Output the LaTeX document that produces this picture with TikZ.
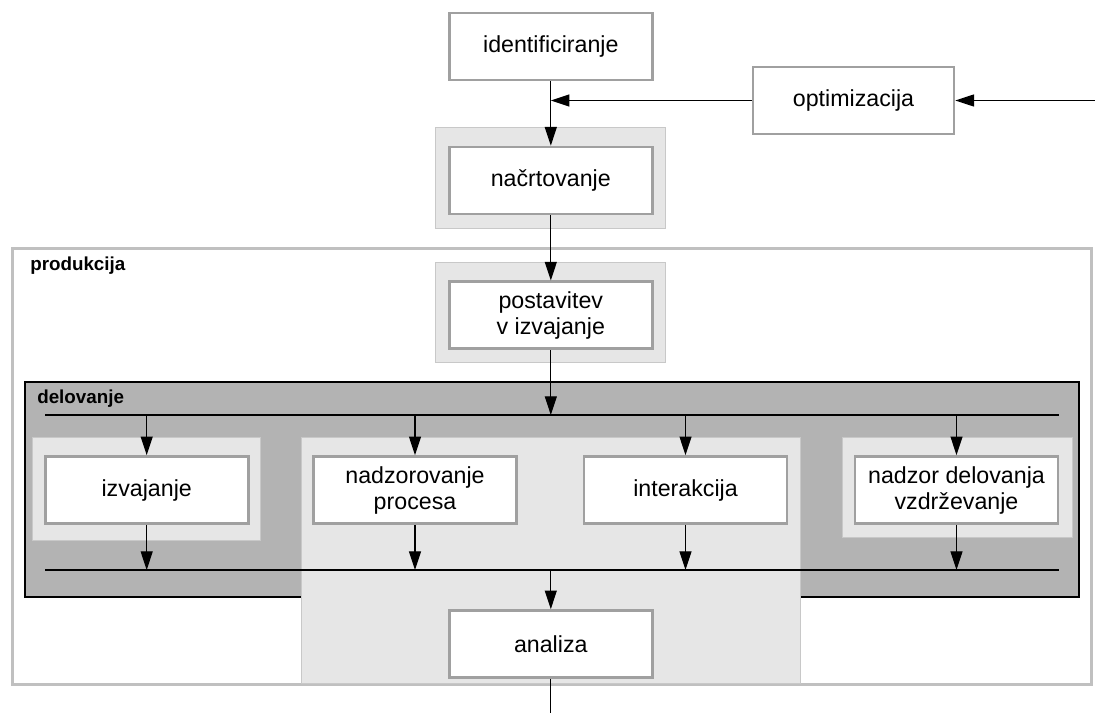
\documentclass[tikz,border=0pt]{standalone}
\usepackage{fontspec}
\setmainfont{Liberation Sans}
\usetikzlibrary{arrows.meta}
\definecolor{boxline}{HTML}{A0A0A0}
\definecolor{panelgrey}{HTML}{E6E6E6}
\definecolor{panelline}{HTML}{C8C8C8}
\definecolor{opgrey}{HTML}{B3B3B3}
\definecolor{frameline}{HTML}{C0C0C0}

\begin{document}
\begin{tikzpicture}[x=0.75pt,y=0.75pt,yscale=-1,xscale=1,
  box/.style={draw=boxline, line width=2pt, fill=white, minimum width=152.25pt, minimum height=50.25pt, inner sep=0pt, align=center, font=\fontsize{17.4}{19.5}\selectfont},
  flow/.style={-{Triangle[length=14pt,width=9pt]}, line width=0.9pt},
  bus/.style={line width=1.2pt},
  panel/.style={draw=panelline, line width=0.75pt, fill=panelgrey},
  title/.style={anchor=west, inner sep=0pt, font=\fontsize{14.1}{16}\selectfont\bfseries}]
\useasboundingbox (0,0) rectangle (1095,713);

%Shape: Rectangle [produkcija]
\draw [fill=white, draw=frameline, line width=2.25pt] (12,248) rectangle (1091,684) ;
%Shape: Rectangle [delovanje]
\draw [fill=opgrey, draw=black, line width=1pt] (25,382) rectangle (1079,597) ;
%Shape: Rectangle [panels]
\draw [panel] (435.7,128) rectangle (665.7,228) ;
\draw [panel] (435.7,262) rectangle (665.7,362) ;
\draw [panel] (32.3,437) rectangle (260.7,540) ;
\draw [panel] (301.5,437) rectangle (800,683) ;
\draw [panel] (842,437) rectangle (1072,537) ;

% Text Node
\node [title] (lprod) at (30,266) {produkcija};
% Text Node
\node [title] (ldel) at (37,399) {delovanje};

% Boxes
\node [box] (ident) at (550.8,46.5) {identificiranje};
\node [box, minimum width=150.75pt] (optim) at (853.5,100.5) {optimizacija};
\node [box] (nacrt) at (550.8,180.5) {načrtovanje};
\node [box] (postav) at (550.8,315.3) {postavitev\\v izvajanje};
\node [box] (izvaj) at (146.7,490) {izvajanje};
\node [box] (nadzorp) at (415,490) {nadzorovanje\\procesa};
\node [box] (interak) at (685.5,490) {interakcija};
\node [box] (nadzord) at (956.5,490) {nadzor delovanja\\vzdrževanje};
\node [box] (analiza) at (550.8,644) {analiza};

% Coordinates
\coordinate (vhod) at (1095,100.5);
\coordinate (zdruzi) at (550.8,100.5);
\coordinate (busTL) at (45,415);
\coordinate (busTR) at (1059,415);
\coordinate (busBL) at (45,570);
\coordinate (busBR) at (1059,570);
\coordinate (izhod) at (550.8,713);

%Straight Lines
\draw [bus] (busTL) -- (busTR) ;
\draw [bus] (busBL) -- (busBR) ;

%Arrows
\draw [flow] (vhod) -- (optim.east) ;
\draw [flow] (optim.west) -- (zdruzi) ;
\draw [flow] (ident.south) -- (nacrt.north) ;
\draw [flow] (nacrt.south) -- (postav.north) ;
\draw [flow] (postav.south) -- (postav.south |- busTL) ;
\draw [flow] (izvaj.north |- busTL) -- (izvaj.north) ;
\draw [flow] (nadzorp.north |- busTL) -- (nadzorp.north) ;
\draw [flow] (interak.north |- busTL) -- (interak.north) ;
\draw [flow] (nadzord.north |- busTL) -- (nadzord.north) ;
\draw [flow] (izvaj.south) -- (izvaj.south |- busBL) ;
\draw [flow] (nadzorp.south) -- (nadzorp.south |- busBL) ;
\draw [flow] (interak.south) -- (interak.south |- busBL) ;
\draw [flow] (nadzord.south) -- (nadzord.south |- busBL) ;
\draw [flow] (analiza.north |- busBL) -- (analiza.north) ;
\draw (analiza.south) -- (izhod) [line width=0.9pt] ;

\end{tikzpicture}
\end{document}
